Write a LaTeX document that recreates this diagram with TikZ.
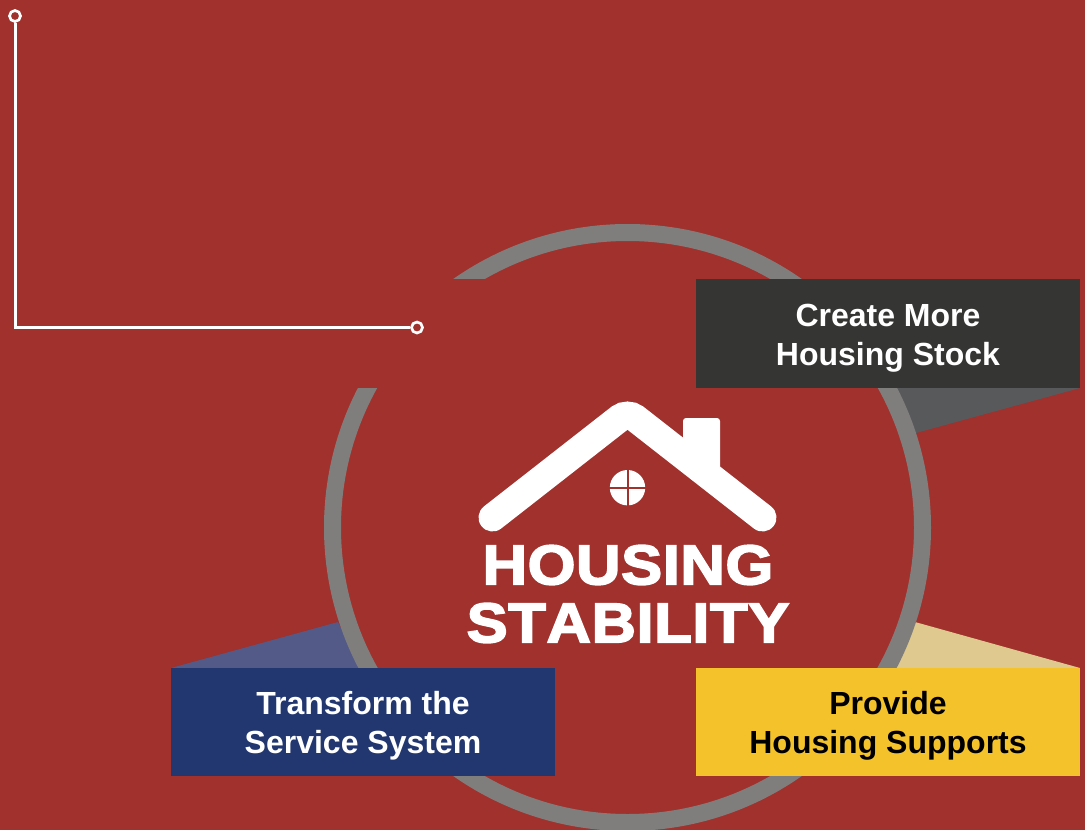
\documentclass[tikz,border=0pt]{standalone}
\usepackage{fontspec}
\setmainfont{Liberation Sans}
\newfontfamily\heavyfont{Liberation Sans}[UprightFont=* Bold, FakeBold=3, FakeStretch=1.10, LetterSpace=1, Kerning=Off]
\definecolor{backred}{RGB}{160, 49, 45}
\definecolor{ringgray}{RGB}{128, 126, 124}
\definecolor{stockdark}{RGB}{53, 53, 51}
\definecolor{stocktail}{RGB}{88, 89, 91}
\definecolor{serviceblue}{RGB}{34, 55, 111}
\definecolor{servicetail}{RGB}{83, 90, 136}
\definecolor{supportyellow}{RGB}{244, 195, 44}
\definecolor{supporttail}{RGB}{223, 201, 142}
\newcommand{\twolines}[2]{\rule{0pt}{31pt}#1\\#2\rule[-7pt]{0pt}{7pt}}

\begin{document}
\begin{tikzpicture}[x=1pt, y=-1pt]

\tikzstyle{pillar} = [minimum width=384pt, minimum height=108.5pt, inner sep=0pt, align=center,
  font=\fontsize{32}{39}\selectfont\bfseries]
\tikzstyle{endpoint} = [draw=white, fill=backred, circle, line width=2.7pt, minimum size=11pt, inner sep=0pt]

\useasboundingbox (0,0) rectangle (1085,830);
\fill [backred] (0,0) rectangle (1085,830);

% tails behind the ring
\fill [stocktail] (1080,388) -- (916,433) -- (893,388) -- cycle;
\fill [servicetail] (171,668) -- (338,622) -- (360,668) -- cycle;
\fill [supporttail] (1080,668) -- (915,622) -- (893,668) -- cycle;

\draw [ringgray, line width=17pt] (627.5,527.5) circle (295);

% empty box hides part of the ring
\node[pillar, fill=backred] (blank) at (363,333.5) {};
\node[pillar, fill=stockdark, text=white] (stock) at (888,333.5) {\twolines{Create More}{Housing Stock}};
\node[pillar, fill=serviceblue, text=white] (service) at (363,722) {\twolines{Transform the}{Service System}};
\node[pillar, fill=supportyellow, text=black] (support) at (888,722) {\twolines{Provide}{Housing Supports}};

% house
\fill [white, rounded corners=3pt] (683,418) rectangle (720,472);
\draw [white, line width=28pt, line cap=round, rounded corners=10pt] (492.5,517.5) -- (627.5,412) -- (762.5,517.5);
\fill [white] (627.5,487.7) circle (17.7);
\draw [backred, line width=2pt] (609,487.7) -- (646,487.7);
\draw [backred, line width=2pt] (627.5,469) -- (627.5,506);

\node[text=white, align=center, inner sep=0pt, font=\fontsize{56}{58}\selectfont\heavyfont] (title) at (628,594) {HOUSING\\STABILITY};

% leader line
\node[endpoint] (start) at (15,16) {};
\node[endpoint] (stop) at (417,327.5) {};
\draw [white, line width=3pt] (start) |- (stop);

\end{tikzpicture}
\end{document}
